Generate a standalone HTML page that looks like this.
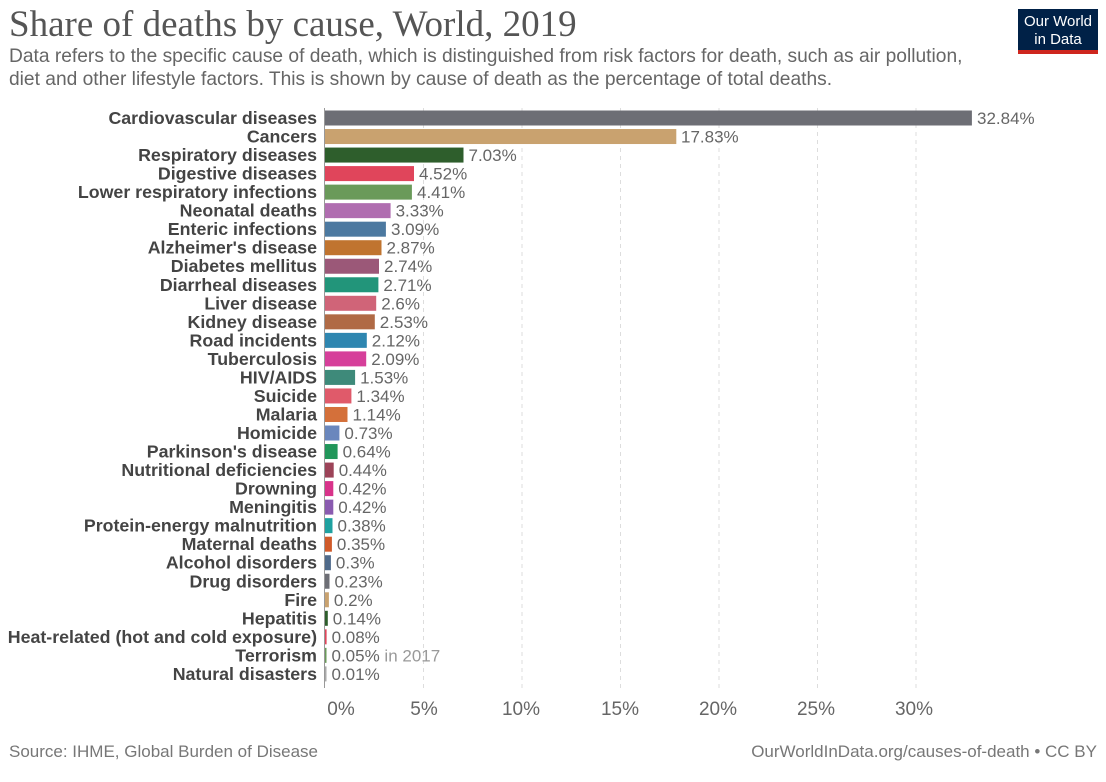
<!DOCTYPE html><html><head><meta charset="utf-8"><style>body{margin:0;background:#fff}svg{display:block}.l{font-size:17.8px;font-weight:bold;fill:#444;text-anchor:end}.v{font-size:17px;fill:#666}</style></head><body>
<svg width="1106" height="782" xmlns="http://www.w3.org/2000/svg" font-family="Liberation Sans, sans-serif">
<text x="9" y="36" font-family="Liberation Serif, serif" font-size="37" fill="#555">Share of deaths by cause, World, 2019</text>
<text x="9" y="62" font-size="19.2" fill="#666">Data refers to the specific cause of death, which is distinguished from risk factors for death, such as air pollution,</text>
<text x="9" y="85" font-size="19.2" fill="#666">diet and other lifestyle factors. This is shown by cause of death as the percentage of total deaths.</text>
<rect x="1018" y="9" width="80" height="44" fill="#002147"/><rect x="1018" y="50" width="80" height="4" fill="#ce261e"/>
<text x="1058" y="26" font-size="15" fill="#fff" text-anchor="middle">Our World</text>
<text x="1058" y="44" font-size="15" fill="#fff" text-anchor="middle">in Data</text>
<g stroke="#ddd" stroke-dasharray="4,4"><line x1="423.5" y1="108" x2="423.5" y2="688"/><line x1="522" y1="108" x2="522" y2="688"/><line x1="620.5" y1="108" x2="620.5" y2="688"/><line x1="719" y1="108" x2="719" y2="688"/><line x1="817.5" y1="108" x2="817.5" y2="688"/><line x1="916" y1="108" x2="916" y2="688"/></g>
<line x1="324.5" y1="108" x2="324.5" y2="688" stroke="#999"/>
<g font-size="19" fill="#666" text-anchor="middle"><text x="341" y="715">0%</text><text x="424" y="715">5%</text><text x="521" y="715">10%</text><text x="620" y="715">15%</text><text x="718" y="715">20%</text><text x="816" y="715">25%</text><text x="914" y="715">30%</text></g>
<g transform="translate(0,118)"><text class="l" x="317" y="6">Cardiovascular diseases</text><rect x="325" y="-7.5" width="646.9" height="15" fill="#6d6e75"/><text class="v" x="977" y="6">32.84%</text></g>
<g transform="translate(0,136.53)"><text class="l" x="317" y="6">Cancers</text><rect x="325" y="-7.5" width="351.3" height="15" fill="#c9a26f"/><text class="v" x="681" y="6">17.83%</text></g>
<g transform="translate(0,155.06)"><text class="l" x="317" y="6">Respiratory diseases</text><rect x="325" y="-7.5" width="138.5" height="15" fill="#2e5e2c"/><text class="v" x="468.5" y="6">7.03%</text></g>
<g transform="translate(0,173.59)"><text class="l" x="317" y="6">Digestive diseases</text><rect x="325" y="-7.5" width="89" height="15" fill="#e0455b"/><text class="v" x="419" y="6">4.52%</text></g>
<g transform="translate(0,192.12)"><text class="l" x="317" y="6">Lower respiratory infections</text><rect x="325" y="-7.5" width="86.9" height="15" fill="#6a9a5a"/><text class="v" x="417" y="6">4.41%</text></g>
<g transform="translate(0,210.65)"><text class="l" x="317" y="6">Neonatal deaths</text><rect x="325" y="-7.5" width="65.6" height="15" fill="#b06db0"/><text class="v" x="395.6" y="6">3.33%</text></g>
<g transform="translate(0,229.18)"><text class="l" x="317" y="6">Enteric infections</text><rect x="325" y="-7.5" width="60.9" height="15" fill="#4c79a0"/><text class="v" x="391" y="6">3.09%</text></g>
<g transform="translate(0,247.71)"><text class="l" x="317" y="6">Alzheimer's disease</text><rect x="325" y="-7.5" width="56.5" height="15" fill="#c0742f"/><text class="v" x="386.5" y="6">2.87%</text></g>
<g transform="translate(0,266.24)"><text class="l" x="317" y="6">Diabetes mellitus</text><rect x="325" y="-7.5" width="54" height="15" fill="#9b5878"/><text class="v" x="384" y="6">2.74%</text></g>
<g transform="translate(0,284.77)"><text class="l" x="317" y="6">Diarrheal diseases</text><rect x="325" y="-7.5" width="53.4" height="15" fill="#22957a"/><text class="v" x="383.4" y="6">2.71%</text></g>
<g transform="translate(0,303.3)"><text class="l" x="317" y="6">Liver disease</text><rect x="325" y="-7.5" width="51.2" height="15" fill="#d06478"/><text class="v" x="381.2" y="6">2.6%</text></g>
<g transform="translate(0,321.83)"><text class="l" x="317" y="6">Kidney disease</text><rect x="325" y="-7.5" width="49.8" height="15" fill="#b06a45"/><text class="v" x="379.8" y="6">2.53%</text></g>
<g transform="translate(0,340.36)"><text class="l" x="317" y="6">Road incidents</text><rect x="325" y="-7.5" width="41.8" height="15" fill="#2e86b0"/><text class="v" x="371.8" y="6">2.12%</text></g>
<g transform="translate(0,358.89)"><text class="l" x="317" y="6">Tuberculosis</text><rect x="325" y="-7.5" width="41.2" height="15" fill="#d63f9a"/><text class="v" x="371.2" y="6">2.09%</text></g>
<g transform="translate(0,377.42)"><text class="l" x="317" y="6">HIV/AIDS</text><rect x="325" y="-7.5" width="30.1" height="15" fill="#3e8a7a"/><text class="v" x="360.1" y="6">1.53%</text></g>
<g transform="translate(0,395.95)"><text class="l" x="317" y="6">Suicide</text><rect x="325" y="-7.5" width="26.4" height="15" fill="#e05a6a"/><text class="v" x="356.4" y="6">1.34%</text></g>
<g transform="translate(0,414.48)"><text class="l" x="317" y="6">Malaria</text><rect x="325" y="-7.5" width="22.5" height="15" fill="#d4703a"/><text class="v" x="352.5" y="6">1.14%</text></g>
<g transform="translate(0,433.01)"><text class="l" x="317" y="6">Homicide</text><rect x="325" y="-7.5" width="14.4" height="15" fill="#6a87bd"/><text class="v" x="344.4" y="6">0.73%</text></g>
<g transform="translate(0,451.54)"><text class="l" x="317" y="6">Parkinson's disease</text><rect x="325" y="-7.5" width="12.6" height="15" fill="#21965a"/><text class="v" x="342.6" y="6">0.64%</text></g>
<g transform="translate(0,470.07)"><text class="l" x="317" y="6">Nutritional deficiencies</text><rect x="325" y="-7.5" width="8.7" height="15" fill="#9c4358"/><text class="v" x="338.7" y="6">0.44%</text></g>
<g transform="translate(0,488.6)"><text class="l" x="317" y="6">Drowning</text><rect x="325" y="-7.5" width="8.3" height="15" fill="#d8338a"/><text class="v" x="338.3" y="6">0.42%</text></g>
<g transform="translate(0,507.13)"><text class="l" x="317" y="6">Meningitis</text><rect x="325" y="-7.5" width="8.3" height="15" fill="#8a5bb0"/><text class="v" x="338.3" y="6">0.42%</text></g>
<g transform="translate(0,525.66)"><text class="l" x="317" y="6">Protein-energy malnutrition</text><rect x="325" y="-7.5" width="7.5" height="15" fill="#1fa1a0"/><text class="v" x="337.5" y="6">0.38%</text></g>
<g transform="translate(0,544.19)"><text class="l" x="317" y="6">Maternal deaths</text><rect x="325" y="-7.5" width="6.9" height="15" fill="#d05a2a"/><text class="v" x="336.9" y="6">0.35%</text></g>
<g transform="translate(0,562.72)"><text class="l" x="317" y="6">Alcohol disorders</text><rect x="325" y="-7.5" width="5.9" height="15" fill="#4f6a8a"/><text class="v" x="335.9" y="6">0.3%</text></g>
<g transform="translate(0,581.25)"><text class="l" x="317" y="6">Drug disorders</text><rect x="325" y="-7.5" width="4.5" height="15" fill="#6d6e75"/><text class="v" x="334.5" y="6">0.23%</text></g>
<g transform="translate(0,599.78)"><text class="l" x="317" y="6">Fire</text><rect x="325" y="-7.5" width="3.9" height="15" fill="#c9a26f"/><text class="v" x="333.9" y="6">0.2%</text></g>
<g transform="translate(0,618.31)"><text class="l" x="317" y="6">Hepatitis</text><rect x="325" y="-7.5" width="2.8" height="15" fill="#2e5e2c"/><text class="v" x="332.8" y="6">0.14%</text></g>
<g transform="translate(0,636.84)"><text class="l" x="317" y="6">Heat-related (hot and cold exposure)</text><rect x="325" y="-7.5" width="1.6" height="15" fill="#e0455b"/><text class="v" x="331.6" y="6">0.08%</text></g>
<g transform="translate(0,655.37)"><text class="l" x="317" y="6">Terrorism</text><rect x="325" y="-7.5" width="1.5" height="15" fill="#6a9a5a"/><text class="v" x="331.5" y="6">0.05%<tspan fill="#999"> in 2017</tspan></text></g>
<g transform="translate(0,673.9)"><text class="l" x="317" y="6">Natural disasters</text><rect x="325" y="-7.5" width="1.5" height="15" fill="#aaa"/><text class="v" x="331.5" y="6">0.01%</text></g>
<text x="9" y="757" font-size="17" fill="#777">Source: IHME, Global Burden of Disease</text>
<text x="1097" y="757" font-size="17" fill="#777" text-anchor="end">OurWorldInData.org/causes-of-death • CC BY</text>
</svg></body></html>
